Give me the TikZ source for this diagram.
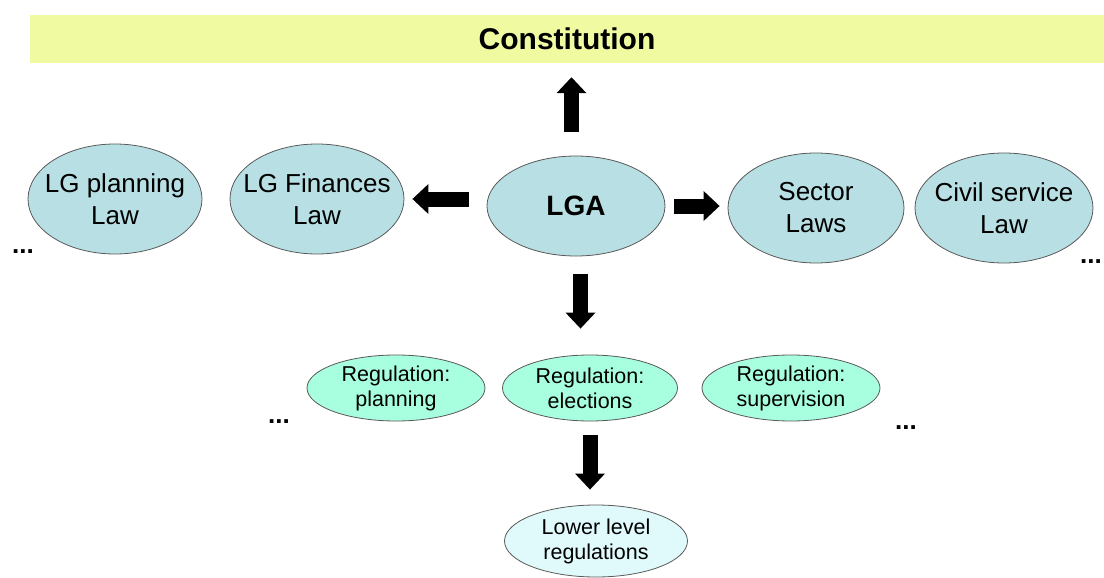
\documentclass[tikz,border=0pt]{standalone}
\usepackage{fontspec}
\setmainfont{Liberation Sans}
\usetikzlibrary{shapes.geometric,arrows.meta}
\definecolor{bandyellow}{RGB}{240,250,160}
\definecolor{lawblue}{RGB}{184,224,228}
\definecolor{regmint}{RGB}{168,255,224}
\definecolor{lowcyan}{RGB}{224,250,252}

\begin{document}
\begin{tikzpicture}[x=1pt,y=-1pt,
  lawnode/.style={ellipse,draw=black!65,line width=0.8pt,fill=lawblue,inner xsep=-16pt,inner ysep=0pt,
    minimum width=174pt,minimum height=110pt,align=center,font=\fontsize{26}{32}\selectfont},
  regnode/.style={ellipse,draw=black!65,line width=0.8pt,fill=regmint,inner sep=0pt,
    minimum width=178pt,minimum height=66pt,align=center,font=\fontsize{21.5}{25}\selectfont},
  dotsnode/.style={inner sep=0pt,font=\bfseries\fontsize{26}{28}\selectfont},
  bigarrow/.style={line width=15pt,-{Triangle[length=16pt,width=29pt]}}]
\useasboundingbox (0,0) rectangle (1104,578);
\node[fill=bandyellow,minimum width=1074pt,minimum height=48pt,inner sep=0pt,
  font=\bfseries\fontsize{30}{32}\selectfont] (const) at (567,39) {Constitution};
\node[lawnode,minimum width=178pt,minimum height=100pt,font=\bfseries\fontsize{28}{30}\selectfont] (lga) at (576,206) {LGA};
\node[lawnode] (lgplan) at (115,199) {LG planning\\Law};
\node[lawnode] (lgfin) at (317,199) {LG Finances\\Law};
\node[lawnode,minimum width=176pt] (sector) at (816,208) {Sector\\Laws};
\node[lawnode,minimum width=178pt] (civil) at (1004,208) {Civil service\\Law};
\node[regnode] (regplan) at (396,388) {Regulation:\\planning};
\node[regnode,minimum width=175pt] (regelec) at (590,388) {Regulation:\\elections};
\node[regnode] (regsup) at (791,388) {Regulation:\\supervision};
\node[regnode,fill=lowcyan,minimum width=183pt,minimum height=72pt] (lower) at (596,541) {Lower level\\regulations};
\node[dotsnode] (dotsa) at (23,252) {...};
\node[dotsnode] (dotsb) at (1091,262) {...};
\node[dotsnode] (dotsc) at (279,422) {...};
\node[dotsnode] (dotsd) at (906,428) {...};
\draw[bigarrow,shorten <=24pt,shorten >=14pt] ([xshift=-4.5pt]lga.north) -- ([xshift=-4.5pt]lga.north |- const.south);
\draw[bigarrow,shorten <=18pt,shorten >=8pt] (lga.west |- lgfin.east) -- (lgfin.east);
\draw[bigarrow,shorten <=9pt,shorten >=8pt] (lga.east) -- (sector.west |- lga.east);
\draw[bigarrow,shorten <=18pt,shorten >=26pt] ([xshift=4.5pt]lga.south) -- ([xshift=4.5pt]lga.south |- regelec.north);
\draw[bigarrow,shorten <=14pt,shorten >=15pt] (regelec.south) -- (regelec.south |- lower.north);
\end{tikzpicture}
\end{document}
